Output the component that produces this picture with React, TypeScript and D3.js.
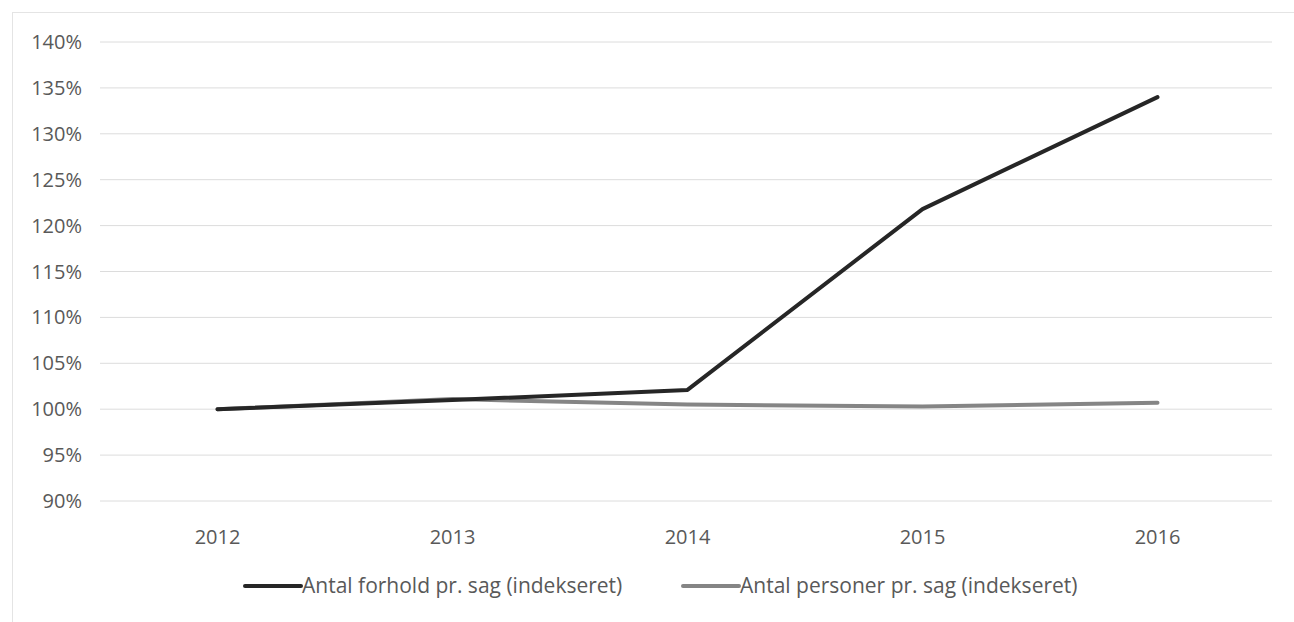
import React from "react";
import * as d3 from "d3";

const years = ["2012", "2013", "2014", "2015", "2016"];
const forhold = [100, 101.0, 102.1, 121.8, 134.0];
const personer = [100, 101.1, 100.5, 100.3, 100.7];
const yTicks = [90, 95, 100, 105, 110, 115, 120, 125, 130, 135, 140];
const seriesNames = ["Antal forhold pr. sag (indekseret)", "Antal personer pr. sag (indekseret)"];

const W = 1294;
const H = 622;
const font = "'Open Sans', 'Noto Sans', sans-serif";

export default function App() {
  const x = d3.scaleBand<string>().domain(years).range([100, 1275]);
  const y = d3.scaleLinear().domain([90, 140]).range([501, 42]);
  const line = d3
    .line<number>()
    .x((_, i) => (x(years[i]) as number) + x.bandwidth() / 2)
    .y((d) => y(d));
  const series = [
    { name: seriesNames[0], values: forhold, color: "#262626" },
    { name: seriesNames[1], values: personer, color: "#858585" },
  ];
  const legendX = [245, 683];
  return (
    <div style={{ position: "absolute", left: 0, top: 0 }}>
      <svg width={W} height={H} style={{ display: "block", background: "#fff" }}>
        <rect x={12.5} y={12.5} width={1300} height={620} fill="none" stroke="#e4e4e4" />
        {yTicks.map((t) => (
          <g key={t}>
            <line x1={100} x2={1272} y1={y(t)} y2={y(t)} stroke="#dcdcdc" strokeWidth={1} />
            <text x={82} y={y(t)} dy="0.35em" textAnchor="end" fontFamily={font} fontSize={20} fill="#595959">
              {t}%
            </text>
          </g>
        ))}
        {years.map((yr) => (
          <text
            key={yr}
            x={(x(yr) as number) + x.bandwidth() / 2}
            y={537}
            dy="0.35em"
            textAnchor="middle"
            fontFamily={font}
            fontSize={20}
            fill="#595959"
          >
            {yr}
          </text>
        ))}
        {[...series].reverse().map((s) => (
          <path
            key={s.name}
            d={line(s.values) || ""}
            fill="none"
            stroke={s.color}
            strokeWidth={4}
            strokeLinejoin="round"
            strokeLinecap="round"
          />
        ))}
        {series.map((s, i) => (
          <g key={s.name}>
            <line x1={legendX[i]} x2={legendX[i] + 56} y1={586} y2={586} stroke={s.color} strokeWidth={4} strokeLinecap="round" />
            <text x={legendX[i] + 57} y={586} dy="0.35em" fontFamily={font} fontSize={21} fill="#595959">
              {s.name}
            </text>
          </g>
        ))}
      </svg>
    </div>
  );
}
